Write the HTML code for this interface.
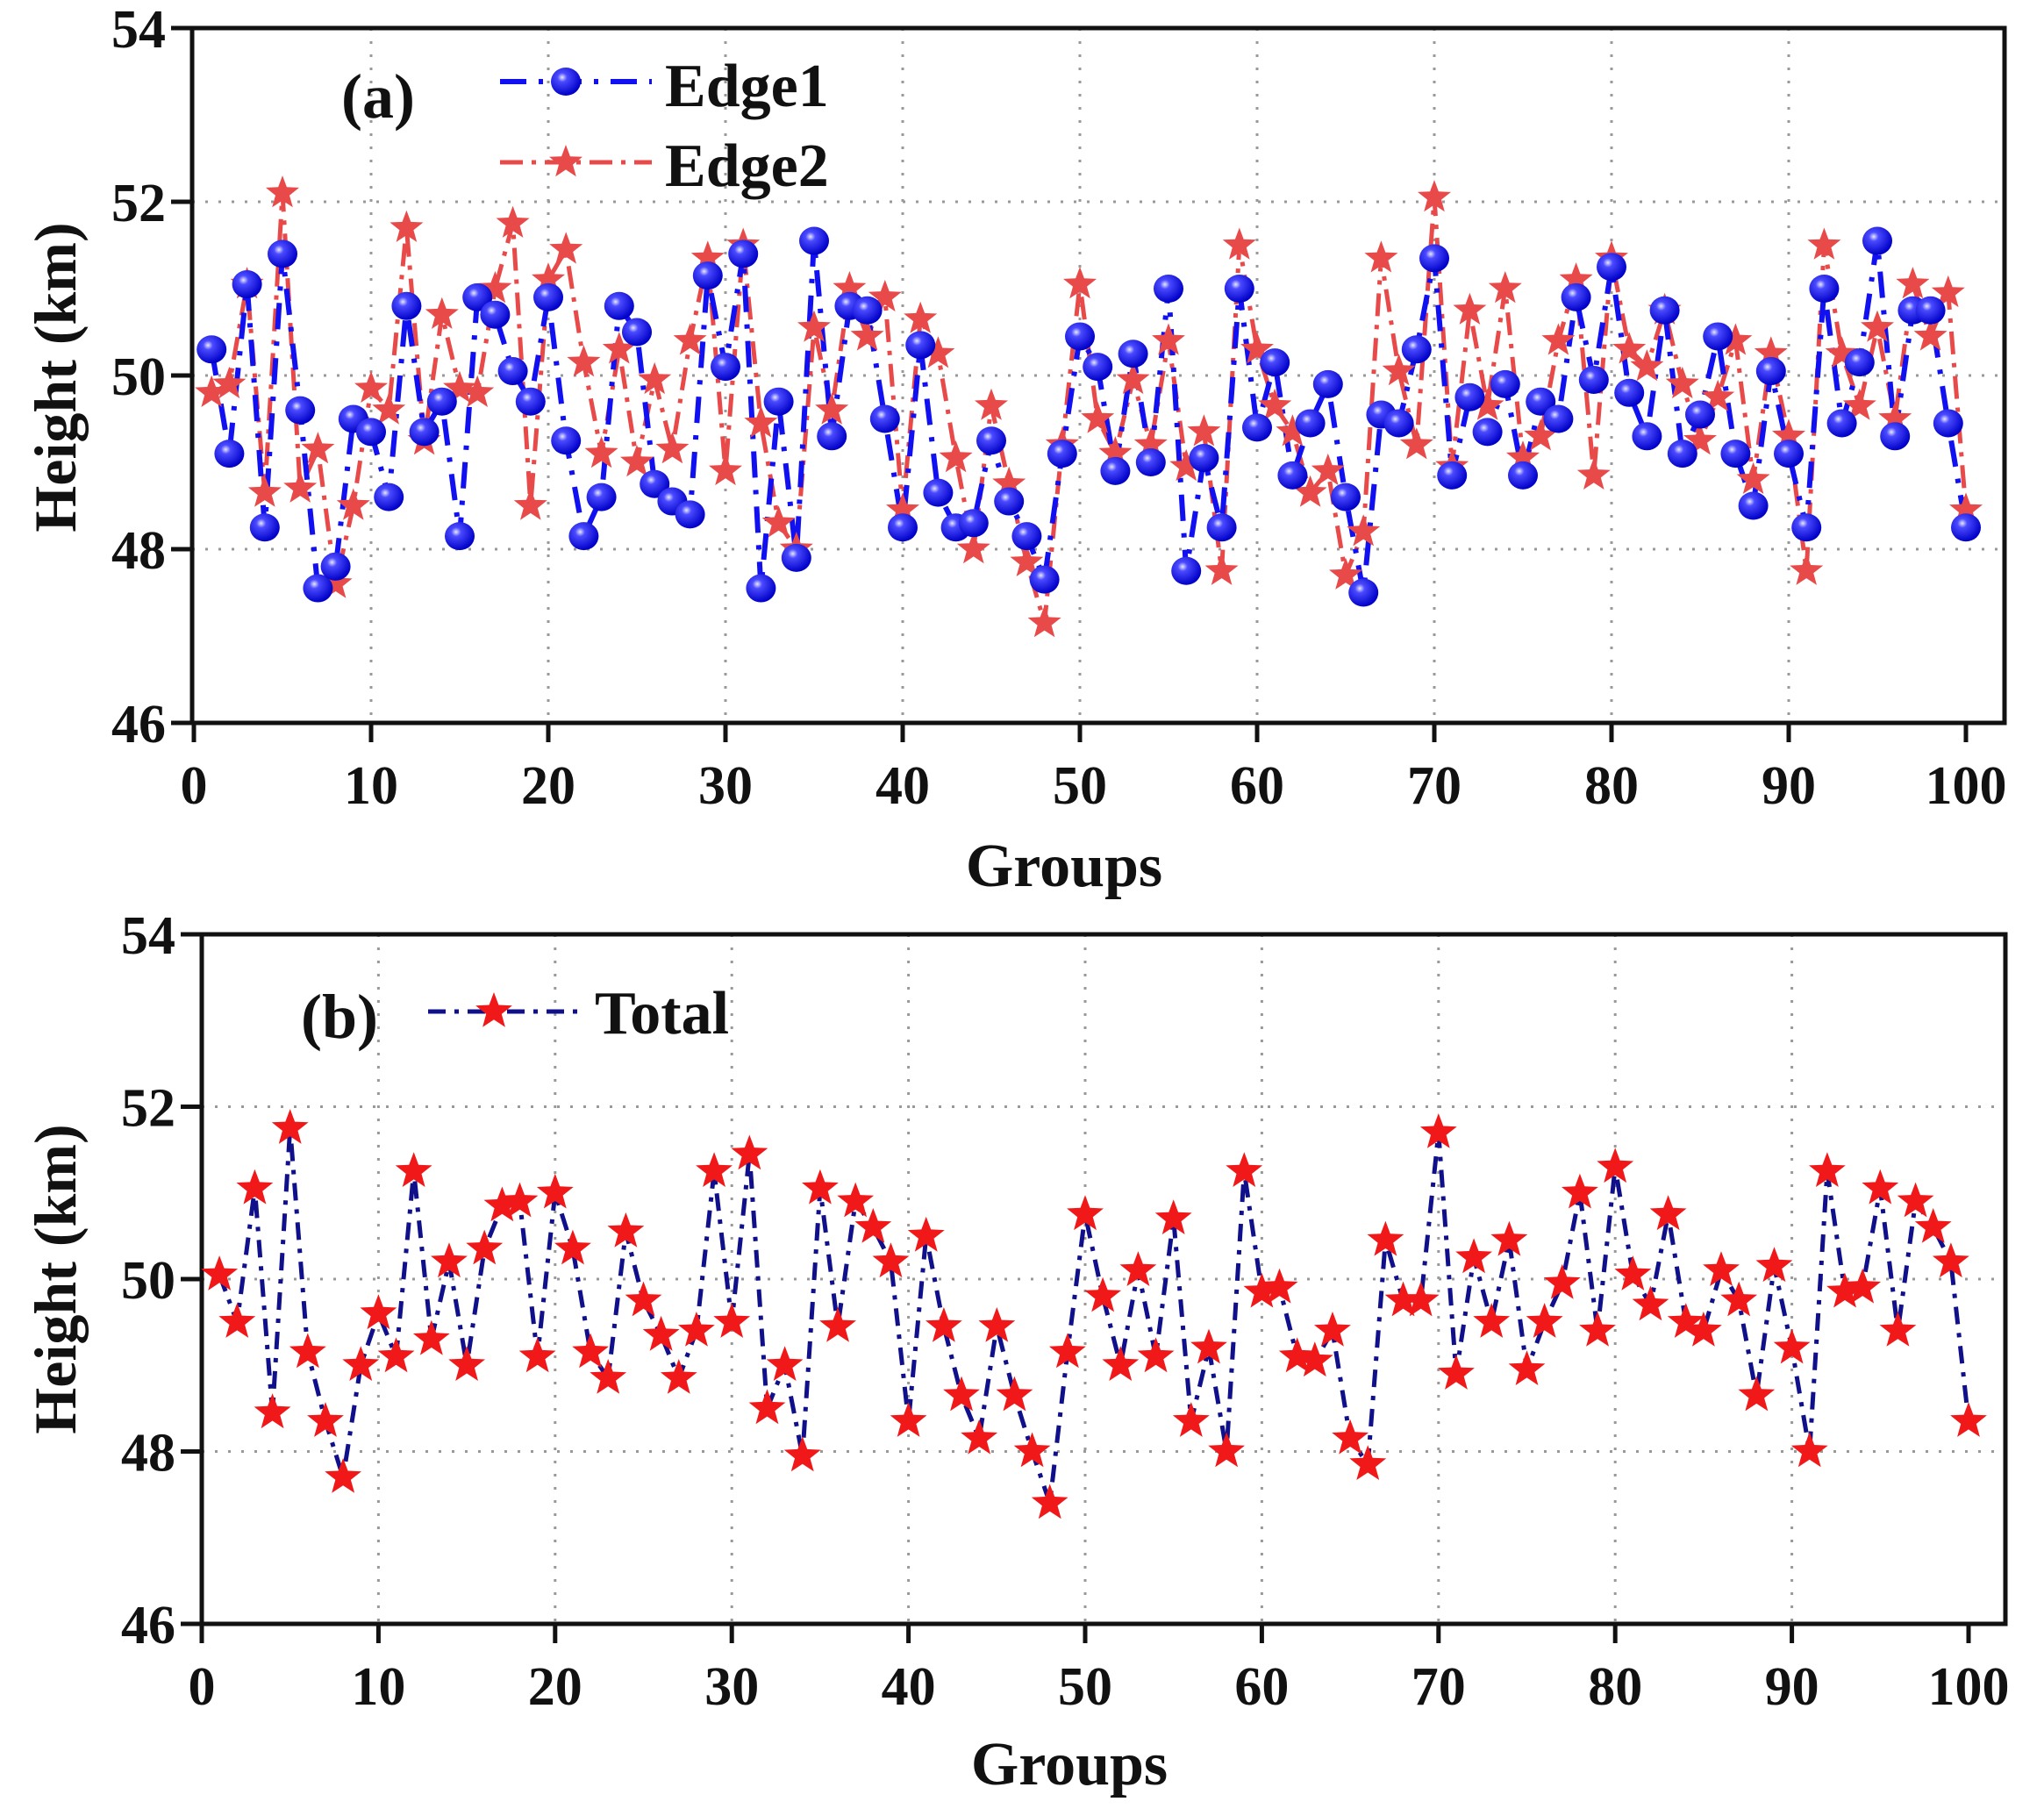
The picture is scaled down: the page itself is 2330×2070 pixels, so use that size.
<!DOCTYPE html>
<html><head><meta charset="utf-8"><style>
html,body{margin:0;padding:0;background:#fff;}
svg{display:block;}
text{font-family:"Liberation Serif",serif;font-weight:bold;fill:#111;}
</style></head><body>
<svg id="s" width="2330" height="2070" viewBox="0 0 2330 2070" xmlns="http://www.w3.org/2000/svg">
<defs>
<radialGradient id="sph" cx="0.38" cy="0.35" r="0.65">
<stop offset="0" stop-color="#e8e8ff"/><stop offset="0.25" stop-color="#4a4aff"/><stop offset="1" stop-color="#0000c8"/>
</radialGradient>
</defs>
<g id="g"></g>
<text x="431" y="134" font-size="72" text-anchor="middle">(a)</text>
<text x="758" y="121" font-size="70">Edge1</text>
<text x="758" y="212" font-size="70">Edge2</text>
<text x="387" y="1183" font-size="72" text-anchor="middle">(b)</text>
<text x="678" y="1178" font-size="70">Total</text>
<text x="1213" y="1010" font-size="70" text-anchor="middle">Groups</text>
<text x="1219" y="2034" font-size="70" text-anchor="middle">Groups</text>
<text transform="translate(86,430) rotate(-90)" font-size="68" text-anchor="middle">Height (km)</text>
<text transform="translate(86,1458) rotate(-90)" font-size="68" text-anchor="middle">Height (km)</text>
</svg>
<script>
var T=[50.05,49.5,51.05,48.45,51.75,49.15,48.35,47.7,49.0,49.6,49.1,51.25,49.3,50.2,49.0,50.35,50.85,50.9,49.1,51.0,50.35,49.15,48.85,50.55,49.75,49.35,48.85,49.4,51.25,49.5,51.45,48.5,49.0,47.95,51.05,49.45,50.9,50.6,50.2,48.35,50.5,49.45,48.65,48.15,49.45,48.65,48.0,47.4,49.15,50.75,49.8,49.0,50.1,49.1,50.7,48.35,49.2,48.0,51.25,49.85,49.9,49.1,49.05,49.4,48.15,47.85,50.45,49.75,49.75,51.7,48.9,50.25,49.5,50.45,48.95,49.5,49.95,51.0,49.4,51.3,50.05,49.7,50.75,49.5,49.4,50.1,49.75,48.65,50.15,49.2,48.0,51.25,49.85,49.9,51.05,49.4,50.9,50.6,50.2,48.35];
var E1=[50.3,49.1,51.05,48.25,51.4,49.6,47.55,47.8,49.5,49.35,48.6,50.8,49.35,49.7,48.15,50.9,50.7,50.05,49.7,50.9,49.25,48.15,48.6,50.8,50.5,48.75,48.55,48.4,51.15,50.1,51.4,47.55,49.7,47.9,51.55,49.3,50.8,50.75,49.5,48.25,50.35,48.65,48.25,48.3,49.25,48.55,48.15,47.65,49.1,50.45,50.1,48.9,50.25,49.0,51.0,47.75,49.05,48.25,51.0,49.4,50.15,48.85,49.45,49.9,48.6,47.5,49.55,49.45,50.3,51.35,48.85,49.75,49.35,49.9,48.85,49.7,49.5,50.9,49.95,51.25,49.8,49.3,50.75,49.1,49.55,50.45,49.1,48.5,50.05,49.1,48.25,51.0,49.45,50.15,51.55,49.3,50.75,50.75,49.45,48.25];
var E2=T.map(function(t,i){return +(2*t-E1[i]).toFixed(2);});
var h='';
function star(cx,cy,R,fill){var p=[];for(var k=0;k<10;k++){var r=k%2?R*0.42:R;var a=-Math.PI/2+k*Math.PI/5;p.push((cx+r*Math.cos(a)).toFixed(1)+','+(cy+r*Math.sin(a)).toFixed(1));}return '<polygon points="'+p.join(' ')+'" fill="'+fill+'"/>';}
function panel(L,R,Tp,B,x0,xs,ys){
  for(var i=10;i<100;i+=10){var x=x0+i*xs;h+='<line x1="'+x+'" y1="'+Tp+'" x2="'+x+'" y2="'+B+'" stroke="#999" stroke-width="3" stroke-dasharray="3,12"/>';}
  [48,50,52].forEach(function(v){var y=Tp+(54-v)*ys;h+='<line x1="'+L+'" y1="'+y+'" x2="'+R+'" y2="'+y+'" stroke="#999" stroke-width="3" stroke-dasharray="3,12"/>';});
  h+='<rect x="'+L+'" y="'+Tp+'" width="'+(R-L)+'" height="'+(B-Tp)+'" fill="none" stroke="#111" stroke-width="5"/>';
  for(var i=0;i<=100;i+=10){var x=x0+i*xs;h+='<line x1="'+x+'" y1="'+B+'" x2="'+x+'" y2="'+(B+22)+'" stroke="#111" stroke-width="5"/>';
    h+='<text x="'+x+'" y="'+(B+92)+'" font-size="62" text-anchor="middle">'+i+'</text>';}
  [46,48,50,52,54].forEach(function(v){var y=Tp+(54-v)*ys;h+='<line x1="'+(L-24)+'" y1="'+y+'" x2="'+L+'" y2="'+y+'" stroke="#111" stroke-width="5"/>';
    h+='<text x="'+(L-30)+'" y="'+(y+22)+'" font-size="62" text-anchor="end">'+v+'</text>';});
}
function pts(d,x0,xs,Tp,ys){return d.map(function(v,i){return [x0+(i+1)*xs,Tp+(54-v)*ys];});}
panel(219,2285,32,824,221,20.2,99);
var p1=pts(E1,221,20.2,32,99),p2=pts(E2,221,20.2,32,99);
h+='<polyline points="'+p2.map(function(p){return p.join(',')}).join(' ')+'" fill="none" stroke="#e84a4a" stroke-width="5" stroke-dasharray="26,10,5,10"/>';
h+='<polyline points="'+p1.map(function(p){return p.join(',')}).join(' ')+'" fill="none" stroke="#1010f0" stroke-width="6" stroke-dasharray="30,14,5,14"/>';
p2.forEach(function(p){h+=star(p[0],p[1],20,'#e84a4a');});
p1.forEach(function(p){h+='<ellipse cx="'+p[0]+'" cy="'+p[1]+'" rx="17" ry="16" fill="url(#sph)"/>';});
h+='<line x1="570" y1="93" x2="743" y2="93" stroke="#1010f0" stroke-width="6" stroke-dasharray="30,14,5,14"/>';
h+='<ellipse cx="645" cy="93" rx="17" ry="16" fill="url(#sph)"/>';
h+='<line x1="570" y1="185" x2="743" y2="185" stroke="#e84a4a" stroke-width="5" stroke-dasharray="26,10,5,10"/>';
h+=star(645,185,20,'#e84a4a');
panel(230,2286,1065,1851,230,20.14,98.25);
var p3=pts(T,230,20.14,1065,98.25);
h+='<polyline points="'+p3.map(function(p){return p.join(',')}).join(' ')+'" fill="none" stroke="#10108a" stroke-width="5" stroke-dasharray="20,10,5,10"/>';
p3.forEach(function(p){h+=star(p[0],p[1],22,'#f01818');});
h+='<line x1="488" y1="1153" x2="660" y2="1153" stroke="#10108a" stroke-width="5" stroke-dasharray="20,10,5,10"/>';
h+=star(563,1153,22,'#f01818');
document.getElementById('g').innerHTML=h;
</script>
</body></html>
